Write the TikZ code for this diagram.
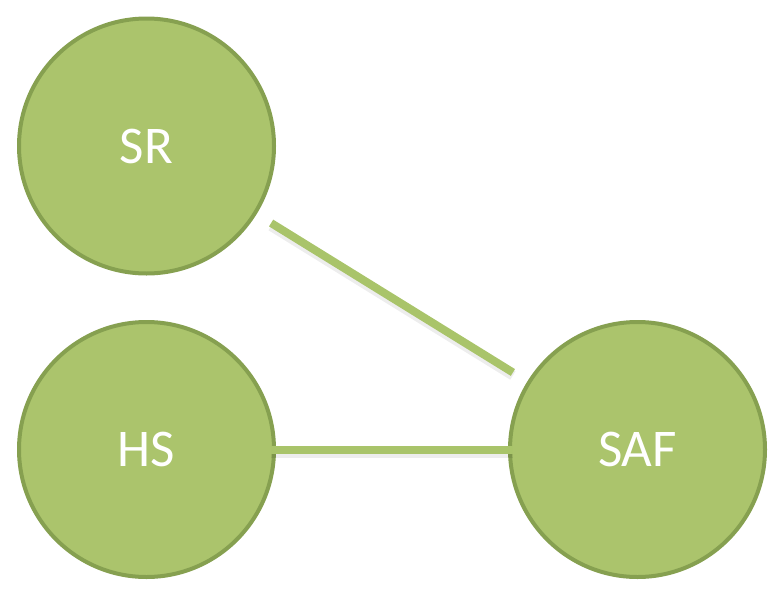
\documentclass[tikz,border=0pt]{standalone}
\usepackage{fontspec}
\setmainfont{Carlito}
\usetikzlibrary{shapes, calc, positioning}
\definecolor{nodegreen}{RGB}{171, 196, 108}
\definecolor{nodeedge}{RGB}{134, 160, 80}
\definecolor{linkgreen}{RGB}{169, 196, 106}

\begin{document}
\begin{tikzpicture}[x=1pt, y=-1pt]%{{{
        \useasboundingbox (0, 0) rectangle (771, 589);

        \coordinate (R);

        \coordinate (P1) at ($(R) + (146.5, 146)$);
        \coordinate (P2) at ($(R) + (146.5, 449.5)$);
        \coordinate (P3) at ($(R) + (637.5, 449.5)$);

        \tikzstyle{c} = [draw=nodeedge, line width=4pt, circle, fill=nodegreen,
                         minimum size=255pt, inner sep=0pt,
                         text=white, font=\fontsize{53}{53}\selectfont];
        \node [c] (SR)  at (P1) {SR};
        \node [c] (HS)  at (P2) {HS};
        \node [c] (SAF) at (P3) {SAF};

        \tikzstyle{l} = [draw=linkgreen, line width=8pt];
        \tikzstyle{s} = [draw=black, opacity=0.07, line width=10pt];

        \draw [s, transform canvas={yshift=-3pt}, shorten <=17pt, shorten >=17pt] (SR) -- (SAF);
        \draw [s, transform canvas={yshift=-3pt}, shorten <=-5pt, shorten >=-5pt] (HS) -- (SAF);

        \draw [l, shorten <=17pt, shorten >=17pt] (SR) -- (SAF);
        \draw [l, shorten <=-5pt, shorten >=-5pt] (HS) -- (SAF);
    \end{tikzpicture}
\end{document}
